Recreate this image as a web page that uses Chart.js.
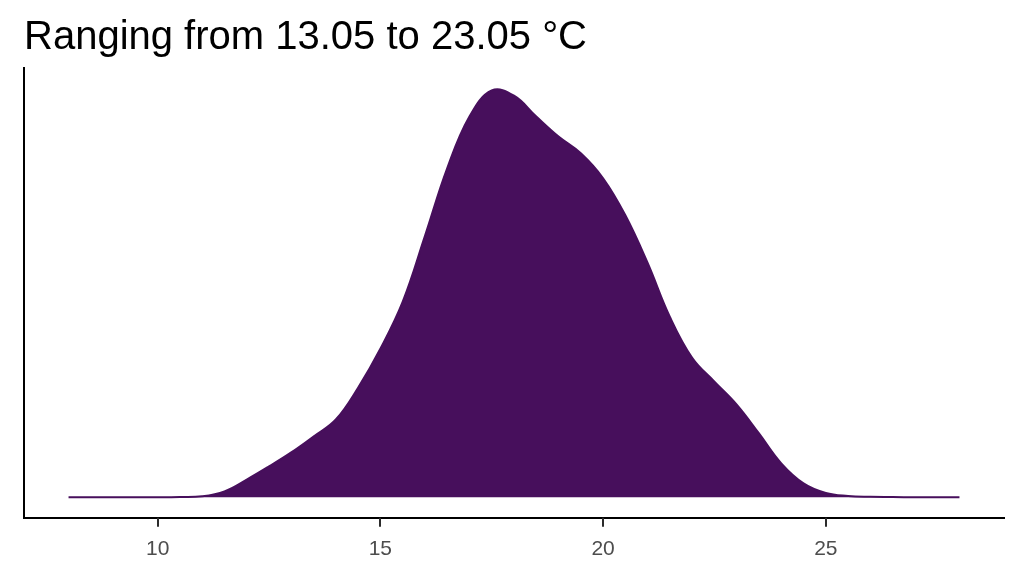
<!DOCTYPE html>
<html>
<head>
<meta charset="utf-8">
<script src="https://cdn.jsdelivr.net/npm/chart.js@4"></script>
<style>
  html, body { margin: 0; padding: 0; background: #ffffff; }
  #box { width: 1024px; height: 576px; }
</style>
</head>
<body>
<div id="box"><canvas id="myChart"></canvas></div>
<script>
// temperatura (°C) e densità
var temps = [8, 8.5, 9, 9.5, 10, 10.5, 11, 11.5, 12, 12.5, 13, 13.5, 14, 14.5, 15, 15.5, 16, 16.5, 17, 17.5,
             18, 18.5, 19, 19.5, 20, 20.5, 21, 21.5, 22, 22.5, 23, 23.5, 24, 24.5, 25, 25.5, 26, 26.5, 27, 27.5, 28];
var density = [0, 0, 0, 0, 0, 0.0001, 0.0004, 0.0022, 0.0065, 0.0113, 0.0164, 0.0222, 0.0284, 0.040, 0.0542, 0.0713, 0.0953, 0.120, 0.1389, 0.1484,
               0.1465, 0.1389, 0.1316, 0.1255, 0.1164, 0.1029, 0.0855, 0.0658, 0.0509, 0.0422, 0.0338, 0.0233, 0.0124, 0.0051, 0.0016, 0.0005, 0.0002, 0.0001, 0, 0, 0];
var xTicks = [10, 15, 20, 25];
var titleText = 'Ranging from 13.05 to 23.05 °C';

var points = [];
for (var i = 0; i < temps.length; i++) {
  points.push({x: temps[i], y: density[i]});
}

// piccole tacche sotto l'asse x, nella posizione dei tick della scala
var tickMarks = {
  id: 'tickMarks',
  afterDraw: function(chart) {
    var sx = chart.scales.x;
    var c = chart.ctx;
    c.save();
    c.strokeStyle = '#2b2b2b';
    c.lineWidth = 2;
    for (var i = 0; i < xTicks.length; i++) {
      var px = Math.round(sx.getPixelForValue(xTicks[i]));
      c.beginPath();
      c.moveTo(px, sx.top);
      c.lineTo(px, sx.top + 9);
      c.stroke();
    }
    c.restore();
  }
};

var ctx = document.getElementById('myChart').getContext('2d');
var chart = new Chart(ctx, {
  type: 'line',
  data: {
    datasets: [{
      data: points,
      borderColor: '#470f5c',
      backgroundColor: '#470f5c',
      borderWidth: 2,
      pointRadius: 0,
      tension: 0.4,
      fill: 'origin'
    }]
  },
  plugins: [tickMarks],
  options: {
    responsive: true,
    maintainAspectRatio: false,
    animation: false,
    devicePixelRatio: 1,
    layout: { padding: { left: 24, right: 20, top: 2, bottom: 3 } },
    plugins: {
      legend: { display: false },
      tooltip: { enabled: false },
      title: {
        display: true,
        text: titleText,
        align: 'start',
        color: '#000000',
        font: { family: 'Liberation Sans', size: 40, weight: 'normal' },
        padding: { top: 12, bottom: 6 }
      }
    },
    scales: {
      x: {
        type: 'linear',
        min: 7,
        max: 29,
        afterBuildTicks: function(scale) {
          scale.ticks = xTicks.map(function(v) { return {value: v}; });
        },
        border: { display: true, color: '#000000', width: 2 },
        grid: { display: false, tickLength: 8 },
        ticks: {
          color: '#4d4d4d',
          font: { family: 'Liberation Sans', size: 21 },
          padding: 11,
          maxRotation: 0
        }
      },
      y: {
        min: -0.00746,
        max: 0.1566,
        afterFit: function(scale) { scale.width = 0; },
        border: { display: true, color: '#000000', width: 2 },
        grid: { display: false },
        ticks: { display: false }
      }
    }
  }
});
</script>
</body>
</html>
